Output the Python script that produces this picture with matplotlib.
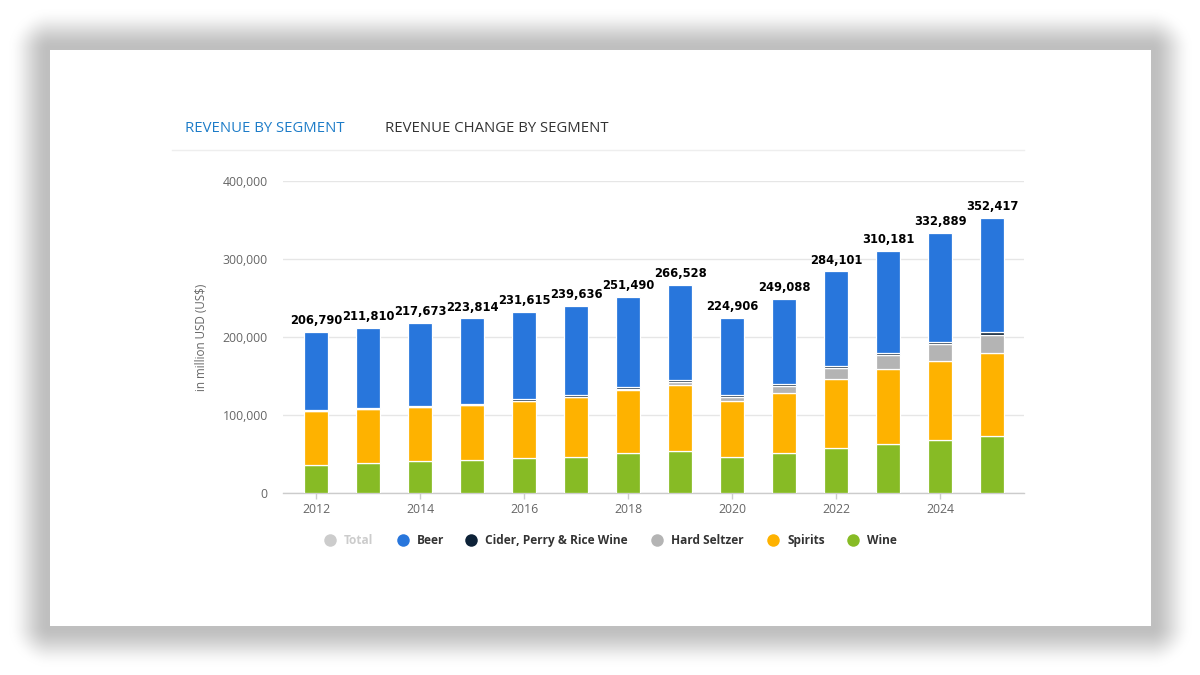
import numpy as np
import matplotlib
matplotlib.use("Agg")
import matplotlib.pyplot as plt
from matplotlib.lines import Line2D

# ---------------- data (million USD) ----------------
years = [2012, 2013, 2014, 2015, 2016, 2017, 2018, 2019, 2020, 2021, 2022, 2023, 2024, 2025]
totals = [206790, 211810, 217673, 223814, 231615, 239636, 251490, 266528, 224906, 249088, 284101, 310181, 332889, 352417]
wine = [35900, 38500, 41000, 42300, 44400, 46200, 51300, 53400, 45700, 50900, 57300, 62400, 67500, 72600]
spirits = [69200, 69200, 69700, 70100, 73600, 76800, 80700, 84600, 71800, 76900, 88400, 96100, 101300, 106400]
hard_seltzer = [0, 0, 0, 0, 300, 500, 1500, 4700, 6000, 9800, 14100, 18400, 22200, 23600]
cider = [1000, 1000, 1100, 1200, 1800, 2000, 2100, 2800, 2500, 2100, 3000, 3000, 2600, 3400]
beer = [100690, 103110, 105873, 110214, 111515, 114136, 115890, 121028, 98906, 109388, 121301, 130281, 139289, 146417]
xtick_years = [2012, 2014, 2016, 2018, 2020, 2022, 2024]
yticks = [0, 100000, 200000, 300000, 400000]
legend_labels = ["Total", "Beer", "Cider, Perry & Rice Wine", "Hard Seltzer", "Spirits", "Wine"]

c_beer = "#2876DC"
c_cider = "#0D2238"
c_seltzer = "#B4B4B4"
c_spirits = "#FEB200"
c_wine = "#87BB25"
c_total = "#CCCCCC"

W, H = 1200, 675
fig = plt.figure(figsize=(12, 6.75), dpi=100)
fig.patch.set_facecolor("white")

# ---------------- shadowed card background ----------------
yy, xx = np.mgrid[0:H, 0:W]
cx0, cx1, cy0, cy1 = 50, 1150, 50, 625
dx = np.maximum(np.maximum(cx0 - xx, xx - cx1), 0)
dy = np.maximum(np.maximum(cy0 - yy, yy - cy1), 0)
d = np.sqrt(dx ** 2 + dy ** 2)
t = np.clip((d - 2) / 40.0, 0, 1)
fall = 1 - (3 * t ** 2 - 2 * t ** 3)
shade = 1 - 0.25 * fall
inside = (xx >= cx0) & (xx <= cx1) & (yy >= cy0) & (yy <= cy1)
shade[inside] = 1.0
img = np.dstack([shade, shade, shade])
fig.figimage(img, xo=0, yo=0, origin="upper", zorder=-10)


def fx(px):
    return px / W


def fy(py):
    return 1 - py / H


# ---------------- tabs ----------------
fig.text(fx(185), fy(128), "REVENUE BY SEGMENT", color="#1D7CC8", fontsize=10.7,
         family="Open Sans", ha="left", va="center")
fig.text(fx(385), fy(128), "REVENUE CHANGE BY SEGMENT", color="#333333", fontsize=10.7,
         family="Open Sans", ha="left", va="center")
fig.add_artist(Line2D([fx(172), fx(1024)], [fy(150), fy(150)], color="#EEEEEE", lw=1))

# ---------------- axes ----------------
ax = fig.add_axes([fx(283), fy(493), fx(1024) - fx(283), (493 - 181) / H])
ax.set_facecolor("none")
x = np.arange(len(years))
bw = 0.47
bottom = np.zeros(len(years))
for vals, col in [(wine, c_wine), (spirits, c_spirits), (hard_seltzer, c_seltzer),
                  (cider, c_cider), (beer, c_beer)]:
    v = np.array(vals, dtype=float)
    ax.bar(x, v, bw, bottom=bottom, color=col, edgecolor="white", linewidth=0.9, zorder=3)
    bottom += v

for xi, tot in zip(x, totals):
    ax.annotate(f"{tot:,}", (xi, tot), xytext=(0, 3.5), textcoords="offset points",
                ha="center", va="bottom", fontsize=8.3, fontweight="bold", color="#000000",
                family="DejaVu Sans", zorder=5)

ax.set_xlim(-0.635, len(years) - 1 + 0.615)
ax.set_ylim(0, 400000)
ax.set_yticks(yticks)
ax.set_yticklabels([f"{v:,}" for v in yticks])
ax.set_xticks([years.index(y) for y in xtick_years])
ax.set_xticklabels([str(y) for y in xtick_years])
ax.grid(axis="y", color="#E6E6E6", lw=1, zorder=0)
ax.set_axisbelow(True)
for s in ["top", "right", "left"]:
    ax.spines[s].set_visible(False)
ax.spines["bottom"].set_color("#CCCCCC")
ax.spines["bottom"].set_linewidth(1)
ax.tick_params(axis="y", length=0, pad=11, labelsize=8.8, labelcolor="#666666")
ax.tick_params(axis="x", length=4, width=1, color="#CCCCCC", pad=3, labelsize=8.8,
               labelcolor="#666666")
for lab in ax.get_xticklabels() + ax.get_yticklabels():
    lab.set_family("Open Sans")
ax.set_ylabel("in million USD (US$)", fontsize=8.4, color="#666666", family="Open Sans")
ax.yaxis.set_label_coords((208 - 283) / (1024 - 283), 0.5)

# ---------------- legend ----------------
leg_colors = [c_total, c_beer, c_cider, c_seltzer, c_spirits, c_wine]
leg_x = [330, 403, 471, 657, 773, 853]
for lbl, col, px in zip(legend_labels, leg_colors, leg_x):
    fig.add_artist(Line2D([fx(px)], [fy(540)], marker="o", markersize=9, color=col,
                          markeredgewidth=0, linestyle="none"))
    fig.text(fx(px + 14), fy(544), lbl, fontsize=8.6, fontweight="bold",
             color="#CCCCCC" if lbl == "Total" else "#333333",
             family="Open Sans", ha="left", va="baseline")

fig.savefig("out.png", dpi=100, facecolor=fig.get_facecolor())
